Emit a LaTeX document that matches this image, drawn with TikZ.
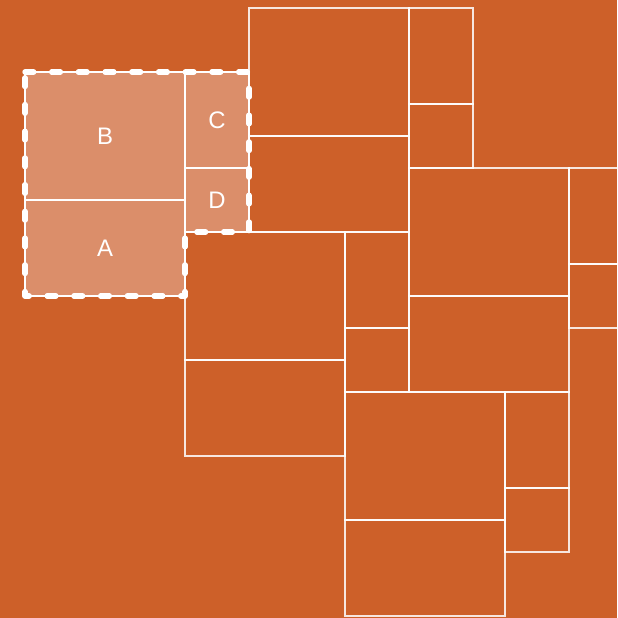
\documentclass[tikz,border=0pt]{standalone}
\usepackage{fontspec}
\setmainfont{Liberation Sans}
\usetikzlibrary{positioning}

\definecolor{tileorange}{HTML}{CD6029}
\definecolor{tilelight}{HTML}{DB8E6A}

\begin{document}
\begin{tikzpicture}[
  x=0.8cm,y=-0.8cm,
  cell/.style={draw=white,draw opacity=0.85,line width=1pt},
  litcell/.style={fill=tilelight,draw=white,line width=1pt},
  outline/.style={draw=white,line width=3.8pt,line cap=round,line join=round,dash pattern=on 6.2pt off 12.8pt},
  letter/.style={text=white,font=\fontsize{17}{20}\selectfont,inner sep=0pt},
]
% Frame and background
\useasboundingbox (-0.78125,-2.25) rectangle (18.5,17.0625);
\fill[tileorange] (-0.78125,-2.25) rectangle (18.5,17.0625);
\clip (-0.78125,-2.25) rectangle (18.5,17.0625);

% Tile at (7,-2)
\draw[cell] (7,-2) rectangle (12,2);
\draw[cell] (7,2) rectangle (12,5);
\draw[cell] (12,-2) rectangle (14,1);
\draw[cell] (12,1) rectangle (14,3);

% Tile at (5,5)
\draw[cell] (5,5) rectangle (10,9);
\draw[cell] (5,9) rectangle (10,12);
\draw[cell] (10,5) rectangle (12,8);
\draw[cell] (10,8) rectangle (12,10);

% Tile at (12,3)
\draw[cell] (12,3) rectangle (17,7);
\draw[cell] (12,7) rectangle (17,10);
\draw[cell] (17,3) rectangle (19,6);
\draw[cell] (17,6) rectangle (19,8);

% Tile at (10,10)
\draw[cell] (10,10) rectangle (15,14);
\draw[cell] (10,14) rectangle (15,17);
\draw[cell] (15,10) rectangle (17,13);
\draw[cell] (15,13) rectangle (17,15);

% Highlighted tile
\draw[litcell] (0,0) rectangle (5,4);
\draw[litcell] (0,4) rectangle (5,7);
\draw[litcell] (5,0) rectangle (7,3);
\draw[litcell] (5,3) rectangle (7,5);
\draw[outline] (0,0) -- (7,0) -- (7,5) -- (5,5) -- (5,7) -- (0,7) -- cycle;

\node[letter] (b) at (2.5,2) {B};
\node[letter] (a) at (2.5,5.5) {A};
\node[letter] (c) at (6,1.5) {C};
\node[letter] (d) at (6,4) {D};
\end{tikzpicture}
\end{document}
